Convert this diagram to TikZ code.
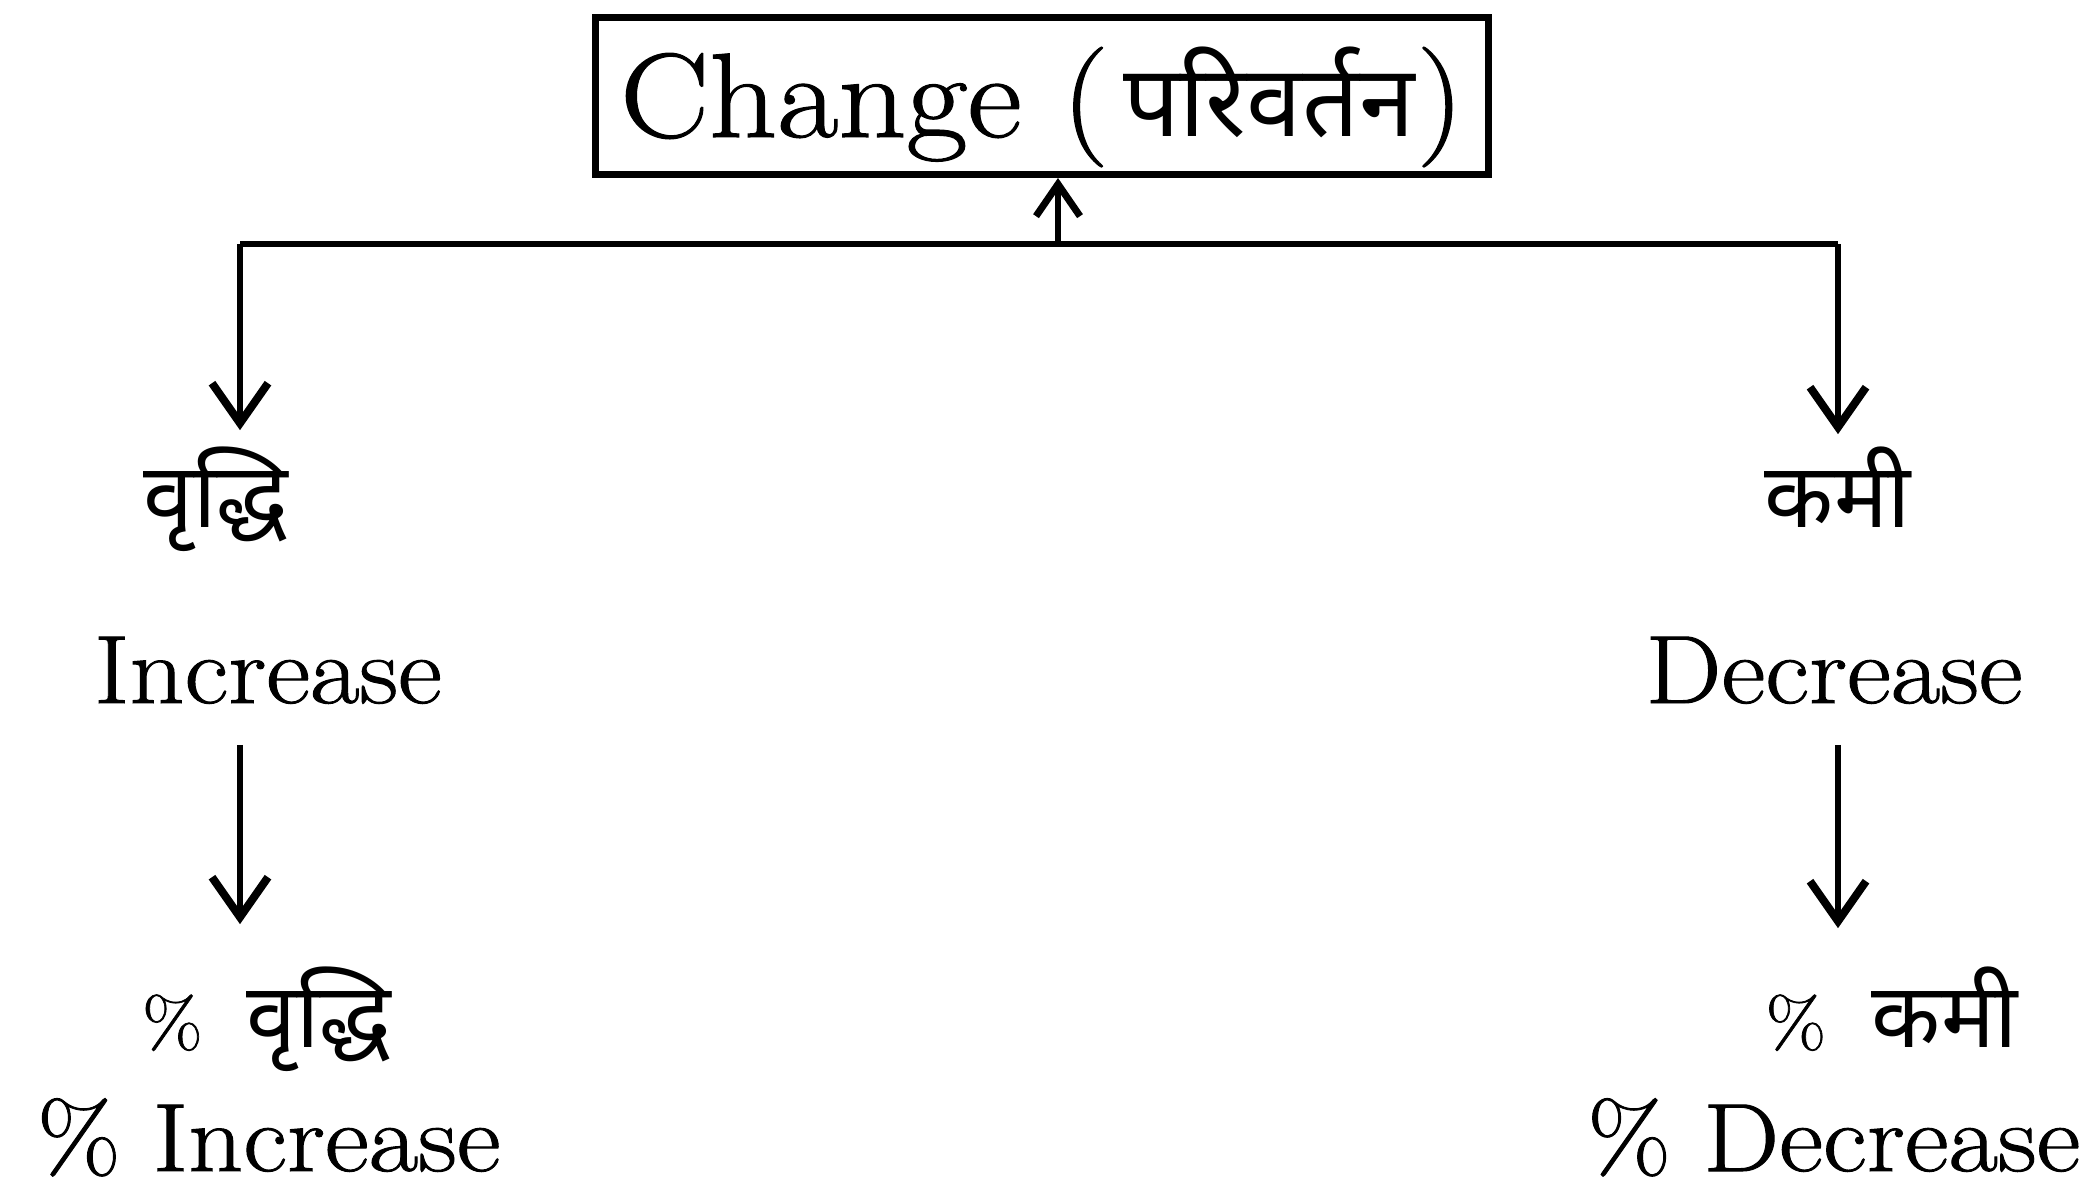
\documentclass[tikz,border=0pt]{standalone}
\usepackage{fontspec}
\setmainfont{Latin Modern Roman}[FakeStretch=1.11,FakeBold=1]
\newfontfamily\dev[Script=Devanagari]{Noto Sans}
\usetikzlibrary{arrows.meta,calc}
\begin{document}
\begin{tikzpicture}[x=1pt,y=-1pt,
  conn/.style={line width=6.5pt},
  arr/.style={conn,-{Straight Barb[length=40pt,width=56pt,line width=8pt]}},
  uparr/.style={conn,-{Straight Barb[length=32pt,width=44pt,line width=7pt]}},
  lat/.style={inner sep=0pt,anchor=base,font=\fontsize{97}{110}\selectfont},
  hin/.style={inner sep=0pt,anchor=base,font=\dev\fontsize{90}{100}\selectfont},
]
\useasboundingbox (0,0) rectangle (2092,1190);

% title box
\node[draw,line width=7pt,minimum width=893pt,minimum height=157pt,inner sep=0pt,
      text height=100pt,text depth=18pt,font=\fontsize{120}{130}\selectfont]
  (change) at (1042,96) {Change (\hspace{14pt}{\dev\fontsize{100}{110}\selectfont परिवर्तन}\hspace{2pt})};

% branch labels
\node[hin] (vriddhi) at (216,527) {वृद्धि};
\node[hin] (kami) at (1838,527) {कमी};
\node[lat] (increase) at (268,703) {Increase};
\node[lat] (decrease) at (1834,703) {Decrease};
\node[lat] (pvriddhi) at (267,1047) {{\fontsize{70}{80}\selectfont\%}\hspace{44pt}{\dev\fontsize{90}{100}\selectfont वृद्धि}};
\node[lat] (pkami) at (1892,1047) {{\fontsize{70}{80}\selectfont\%}\hspace{46pt}{\dev\fontsize{90}{100}\selectfont कमी}};
\node[lat] (pincrease) at (269,1171) {\% Increase};
\node[lat] (pdecrease) at (1834,1171) {\% Decrease};

% connectors
\coordinate (jc) at (1058,244);
\coordinate (jl) at (240,244);
\coordinate (jr) at (1838,244);
\draw[conn] (jl) -- (jr);
\draw[uparr] (jc) -- (jc |- change.south);
\draw[arr,shorten >=16pt] (jl) -- (jl |- vriddhi.north);
\draw[arr,shorten >=12pt] (jr) -- (jr |- kami.north);
\draw[arr,shorten <=41pt,shorten >=42pt] (jl |- increase.south) -- (jl |- pvriddhi.north);
\draw[arr,shorten <=41pt,shorten >=38pt] (jr |- decrease.south) -- (jr |- pkami.north);
\end{tikzpicture}
\end{document}
